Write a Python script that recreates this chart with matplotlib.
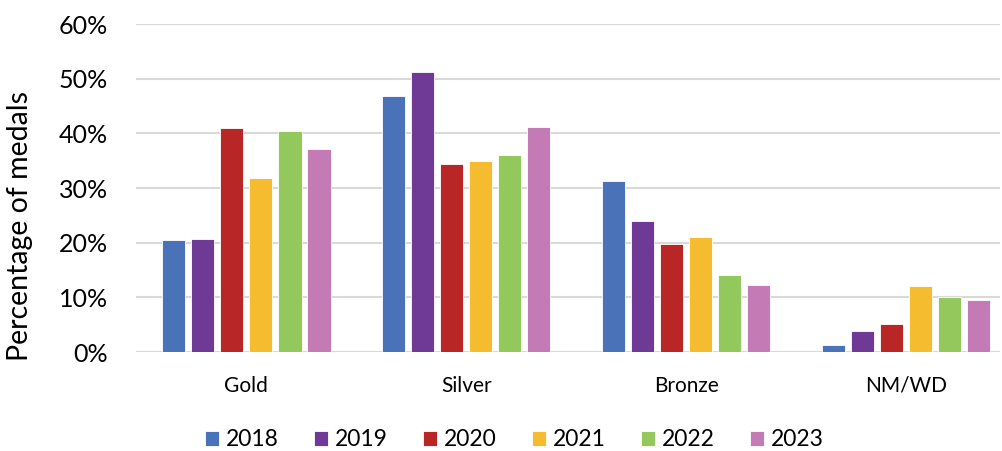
import matplotlib.pyplot as plt
import numpy as np
from matplotlib.ticker import PercentFormatter

plt.rcParams['font.family'] = ['Lato', 'DejaVu Sans']

categories = ['Gold', 'Silver', 'Bronze', 'NM/WD']
years = ['2018', '2019', '2020', '2021', '2022', '2023']
colors = ['#4A72B8', '#6E3A96', '#B82626', '#F6BC2F', '#92C85C', '#C47AB4']

# percentage of medals per category, one list per year
pct_2018 = [20.4, 46.9, 31.3, 1.3]
pct_2019 = [20.7, 51.3, 24.0, 3.8]
pct_2020 = [40.9, 34.3, 19.7, 5.1]
pct_2021 = [31.9, 35.0, 21.0, 12.0]
pct_2022 = [40.4, 36.0, 14.0, 10.0]
pct_2023 = [37.1, 41.1, 12.2, 9.6]
series = [pct_2018, pct_2019, pct_2020, pct_2021, pct_2022, pct_2023]

fig = plt.figure(figsize=(10.03, 4.51), dpi=100)
ax = fig.add_axes([136.5 / 1003, 99 / 451, (1000 - 136.5) / 1003, 328 / 451])

x = np.arange(len(categories))
pitch = 0.132
width = 0.105
for i, (vals, yr, c) in enumerate(zip(series, years, colors)):
    ax.bar(x + (i - 2.5) * pitch, vals, width, color=c, label=yr,
           edgecolor='white', linewidth=0.6, zorder=3)

ax.set_xlim(-0.5, 3.5 - 16 / 220)
ax.set_ylim(0, 60)
ax.set_yticks(np.arange(0, 61, 10))
ax.yaxis.set_major_formatter(PercentFormatter(decimals=0))
ax.grid(axis='y', color='#D9D9D9', linewidth=1.5, zorder=0)
for s in ax.spines.values():
    s.set_visible(False)
ax.tick_params(axis='y', length=0, labelsize=18, pad=20.5)
ax.tick_params(axis='x', length=0, labelsize=15, pad=17)
ax.set_xticks(x)
ax.set_xticklabels(categories)
ax.set_ylabel('Percentage of medals', fontsize=20.5)
ax.yaxis.set_label_coords(-0.12, 0.383)

ax.legend(loc='center', bbox_to_anchor=(0.4378, -0.268), ncol=6, frameon=False,
          fontsize=16.5, handlelength=0.6, handleheight=0.6, handletextpad=0.3,
          columnspacing=1.55)

fig.savefig('out.png', dpi=100)
